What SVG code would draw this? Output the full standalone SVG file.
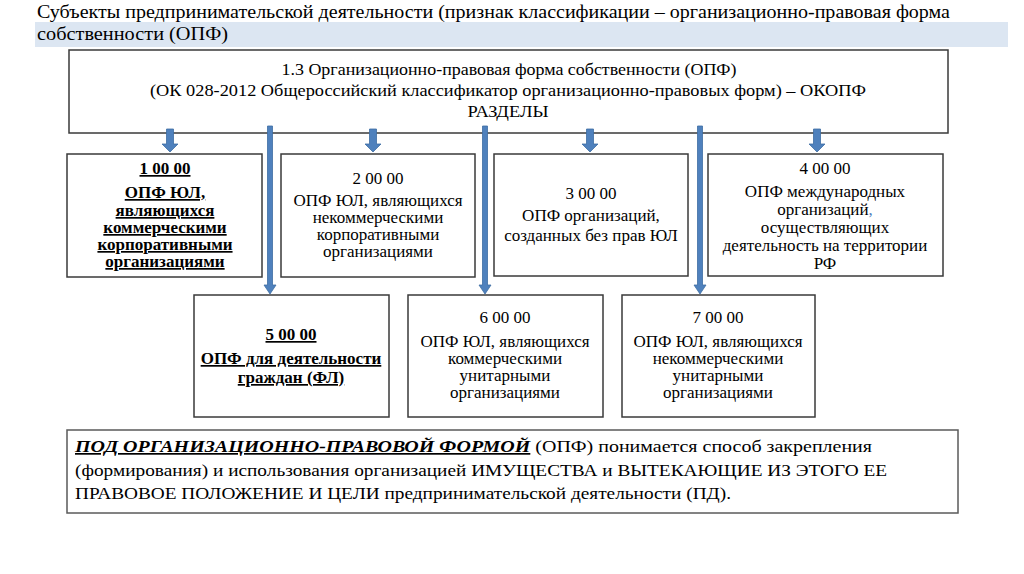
<svg xmlns="http://www.w3.org/2000/svg" width="1024" height="574" viewBox="0 0 1024 574" font-family="'Liberation Serif','Times New Roman',serif">
<defs>
<style>
text{font-family:'Liberation Serif','Times New Roman',serif;fill:#000}
.box{fill:#fff;stroke:#3a3a3a;stroke-width:1.5}
.t{font-family:'Liberation Serif','Times New Roman',serif;font-size:17px;text-anchor:middle}
.b{font-family:'Liberation Serif','Times New Roman',serif;font-size:17px;font-weight:bold;text-anchor:middle;text-decoration:underline}
.hd{font-family:'Liberation Serif','Times New Roman',serif;font-size:17px;text-anchor:middle}
.arr{fill:#4f81bd;stroke:#3e6da3;stroke-width:0.8}
.bt{font-family:'Liberation Serif','Times New Roman',serif;font-size:17px}
</style>
</defs>
<rect x="0" y="0" width="1024" height="574" fill="#fff"/>
<g id="title">
<rect x="35" y="22" width="973" height="25" fill="#dce6f2"/>
<text x="37" y="18" font-size="18" textLength="913" lengthAdjust="spacingAndGlyphs">Субъекты предпринимательской деятельности (признак классификации – организационно-правовая форма</text>
<text x="37" y="40" font-size="18" textLength="191" lengthAdjust="spacingAndGlyphs">собственности (ОПФ)</text>
</g>
<g id="main">
<rect class="box" x="69" y="50" width="879" height="83"/>
<text class="hd" x="509" y="75" textLength="455" lengthAdjust="spacingAndGlyphs">1.3 Организационно-правовая форма собственности (ОПФ)</text>
<text class="hd" x="508" y="96" textLength="716" lengthAdjust="spacingAndGlyphs">(ОК 028-2012 Общероссийский классификатор организационно-правовых форм) – ОКОПФ</text>
<text class="hd" x="508" y="117" textLength="81" lengthAdjust="spacingAndGlyphs">РАЗДЕЛЫ</text>
</g>
<g id="connectors">
<polygon class="arr" points="166.5,129 173.5,129 173.5,144 178,144 170,152 162,144 166.5,144"/>
<polygon class="arr" points="369.5,129 376.5,129 376.5,144 381,144 373,152 365,144 369.5,144"/>
<polygon class="arr" points="586.5,129 593.5,129 593.5,144 598,144 590,152 582,144 586.5,144"/>
<polygon class="arr" points="813.5,129 820.5,129 820.5,144 825,144 817,152 809,144 813.5,144"/>
<polygon class="arr" points="267.5,126 272.5,126 272.5,285 276,285 270,294 264,285 267.5,285"/>
<polygon class="arr" points="482.5,126 487.5,126 487.5,285 491,285 485,294 479,285 482.5,285"/>
<polygon class="arr" points="697.5,126 702.5,126 702.5,285 706,285 700,294 694,285 697.5,285"/>
</g>
<g id="n1">
<rect class="box" x="67" y="154" width="195" height="123"/>
<text class="b" x="165" y="174">1 00 00</text>
<text class="b" x="165" y="198">ОПФ ЮЛ,</text>
<text class="b" x="165" y="216">являющихся</text>
<text class="b" x="165" y="233">коммерческими</text>
<text class="b" x="165" y="250">корпоративными</text>
<text class="b" x="165" y="267">организациями</text>
</g>
<g id="n2">
<rect class="box" x="281" y="154" width="194" height="123"/>
<text class="t" x="378" y="184">2 00 00</text>
<text class="t" x="378" y="206">ОПФ ЮЛ, являющихся</text>
<text class="t" x="378" y="223">некоммерческими</text>
<text class="t" x="378" y="240">корпоративными</text>
<text class="t" x="378" y="257">организациями</text>
</g>
<g id="n3">
<rect class="box" x="494" y="154" width="194" height="122"/>
<text class="t" x="591" y="199">3 00 00</text>
<text class="t" x="591" y="221">ОПФ организаций,</text>
<text class="t" x="591" y="241">созданных без прав ЮЛ</text>
</g>
<g id="n4">
<rect class="box" x="708" y="154" width="235" height="122"/>
<text class="t" x="825" y="174">4 00 00</text>
<text class="t" x="825" y="197">ОПФ международных</text>
<text class="t" x="825" y="215">организаций<tspan fill="#4f81bd">,</tspan></text>
<text class="t" x="825" y="233">осуществляющих</text>
<text class="t" x="825" y="251">деятельность на территории</text>
<text class="t" x="825" y="269">РФ</text>
</g>
<g id="n5">
<rect class="box" x="194" y="295" width="195" height="122"/>
<text class="b" x="291" y="340">5 00 00</text>
<text class="b" x="291" y="364">ОПФ для деятельности</text>
<text class="b" x="291" y="383">граждан (ФЛ)</text>
</g>
<g id="n6">
<rect class="box" x="408" y="295" width="195" height="122"/>
<text class="t" x="505" y="323">6 00 00</text>
<text class="t" x="505" y="347">ОПФ ЮЛ, являющихся</text>
<text class="t" x="505" y="364">коммерческими</text>
<text class="t" x="505" y="381">унитарными</text>
<text class="t" x="505" y="398">организациями</text>
</g>
<g id="n7">
<rect class="box" x="622" y="295" width="193" height="122"/>
<text class="t" x="718" y="323">7 00 00</text>
<text class="t" x="718" y="347">ОПФ ЮЛ, являющихся</text>
<text class="t" x="718" y="364">некоммерческими</text>
<text class="t" x="718" y="381">унитарными</text>
<text class="t" x="718" y="398">организациями</text>
</g>
<g id="definition">
<rect x="67" y="430" width="891" height="83" fill="#fff" stroke="#5a5a5a" stroke-width="1.5"/>
<text class="bt" x="75" y="452" textLength="797" lengthAdjust="spacingAndGlyphs"><tspan font-weight="bold" font-style="italic" text-decoration="underline">ПОД ОРГАНИЗАЦИОННО-ПРАВОВОЙ ФОРМОЙ</tspan> (ОПФ) понимается способ закрепления</text>
<text class="bt" x="75" y="476" textLength="812" lengthAdjust="spacingAndGlyphs">(формирования) и использования организацией ИМУЩЕСТВА и ВЫТЕКАЮЩИЕ ИЗ ЭТОГО ЕЕ</text>
<text class="bt" x="75" y="499" textLength="656" lengthAdjust="spacingAndGlyphs">ПРАВОВОЕ ПОЛОЖЕНИЕ И ЦЕЛИ предпринимательской деятельности (ПД).</text>
</g>
</svg>
